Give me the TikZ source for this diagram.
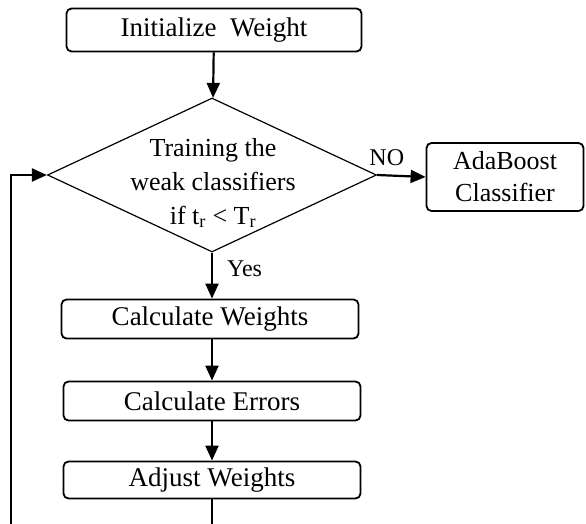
\documentclass[tikz,border=0pt]{standalone}
\usepackage{fontspec}
\setmainfont{Liberation Serif}
\usetikzlibrary{shapes.geometric}
\usetikzlibrary{arrows.meta}

\begin{document}
\begin{tikzpicture}[x=1pt,y=-1pt,
  stepbox/.style={draw,line width=1.8pt,rounded corners=5pt,
    minimum width=297pt,minimum height=39pt,inner sep=0pt,
    font=\fontsize{27}{30}\selectfont},
  flow/.style={line width=2.2pt,-{Triangle[length=15pt,width=13pt]}},
  lbl/.style={font=\fontsize{24}{28}\selectfont,inner sep=0pt}]
  \useasboundingbox (0,0) rectangle (586,524);
  \clip (0,0) rectangle (586,524);

  %main column
  \node[stepbox,minimum width=295pt,minimum height=43pt] (init) at (214,30) {Initialize\ \ Weight};
  \node[draw,diamond,line width=1.2pt,inner sep=0pt,
    minimum width=329pt,minimum height=154pt] (test) at (212,175) {};
  \node[align=center,inner sep=0pt,font=\fontsize{26}{34}\selectfont]
    (testtext) at (213,183) {Training the\\weak classifiers\\if t\textsubscript{r} < T\textsubscript{r}};
  \node[stepbox] (calcw) at (210,319) {Calculate Weights};
  \node[stepbox] (calce) at (212,401) {Calculate Errors};
  \node[stepbox,minimum height=37pt] (adjust) at (212,480) {Adjust Weights};

  %right
  \node[stepbox,minimum width=157pt,minimum height=68pt,align=center,
    font=\fontsize{26}{32}\selectfont] (ada) at (505,177) {AdaBoost\\Classifier};

  %arrows
  \draw[flow] (init) -- (test);
  \draw[flow] (test.east) -- (ada.west) node[lbl,pos=0.2,above=9pt] {NO};
  \draw[flow] (test.south) -- (calcw.north -| test.south) node[lbl,pos=0.35,right=14pt] {Yes};
  \draw[flow] (calcw.south -| calce) -- (calce);
  \draw[flow] (calce) -- (adjust);

  %loop back
  \coordinate (loop) at (11,545);
  \draw[flow] (adjust) -- (adjust |- loop) -- (loop) |- (test.west);
\end{tikzpicture}
\end{document}
